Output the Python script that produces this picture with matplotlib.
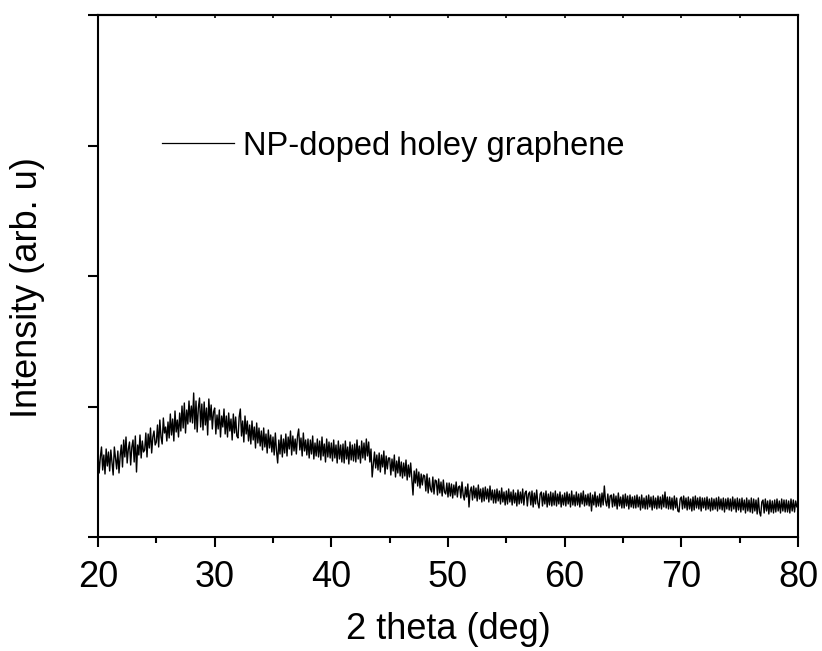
import numpy as np
import matplotlib
matplotlib.use("Agg")
import matplotlib.pyplot as plt

plt.rcParams['font.family'] = ['Liberation Sans', 'DejaVu Sans']

# 2-theta grid (deg) and intensity (arb. units), 0.1 deg steps
two_theta_start = 20.0
two_theta_step = 0.1
intensity = [
    84, 64, 80, 90, 67, 82, 63, 88, 71, 85,            # 20
    66, 87, 74, 62, 90, 79, 68, 86, 64, 81,            # 21
    92, 70, 97, 80, 100, 74, 88, 95, 72, 90,           # 22
    97, 75, 101, 65, 92, 82, 102, 79, 96, 85,          # 23
    87, 104, 80, 103, 89, 109, 84, 100, 106, 92,       # 24
    95, 112, 90, 117, 100, 93, 119, 104, 110, 96,      # 25
    115, 99, 123, 102, 118, 96, 126, 105, 117, 100,    # 26
    124, 106, 131, 109, 134, 104, 127, 113, 136, 115,  # 27
    131, 114, 144, 108, 136, 105, 129, 139, 110, 133,  # 28
    107, 135, 112, 129, 102, 138, 117, 132, 108, 125,  # 29
    129, 103, 122, 108, 127, 100, 121, 110, 128, 103,  # 30
    121, 100, 124, 106, 118, 97, 123, 104, 120, 101,   # 31
    99, 120, 128, 101, 116, 95, 121, 103, 116, 96,     # 32
    112, 93, 116, 97, 110, 89, 114, 94, 109, 91,       # 33
    106, 87, 109, 90, 103, 84, 107, 89, 102, 85,       # 34
    100, 82, 104, 86, 74, 97, 83, 102, 80, 98,         # 35
    84, 103, 81, 100, 88, 106, 82, 101, 86, 98,        # 36
    83, 101, 108, 87, 99, 81, 104, 86, 97, 82,         # 37
    98, 79, 97, 83, 101, 78, 94, 81, 98, 80,           # 38
    96, 77, 100, 81, 93, 75, 98, 80, 95, 79,           # 39
    94, 76, 97, 79, 92, 74, 96, 78, 92, 75,            # 40
    93, 74, 96, 78, 90, 73, 95, 77, 92, 76,            # 41
    93, 75, 97, 78, 91, 74, 96, 79, 94, 77,            # 42
    98, 81, 95, 75, 88, 60, 72, 85, 69, 82,            # 43
    67, 84, 65, 82, 70, 86, 63, 81, 68, 79,            # 44
    79, 62, 78, 66, 82, 60, 76, 64, 80, 61,            # 45
    75, 59, 74, 61, 77, 57, 72, 60, 74, 58,            # 46
    42, 66, 54, 68, 51, 65, 49, 63, 52, 62,            # 47
    61, 46, 63, 44, 59, 48, 45, 60, 43, 57,            # 48
    56, 42, 58, 44, 55, 41, 57, 45, 43, 54,            # 49
    40, 54, 41, 53, 39, 52, 42, 55, 40, 50,            # 50
    51, 39, 55, 42, 37, 50, 40, 53, 30, 46,            # 51
    50, 37, 51, 39, 49, 36, 52, 38, 48, 35,            # 52
    49, 36, 50, 38, 48, 35, 51, 37, 47, 34,            # 53
    47, 34, 48, 36, 46, 33, 49, 35, 45, 32,            # 54
    46, 33, 48, 35, 45, 32, 47, 34, 44, 31,            # 55
    47, 33, 45, 34, 48, 32, 44, 46, 31, 43,            # 56
    45, 32, 46, 30, 44, 33, 47, 34, 29, 43,            # 57
    45, 31, 44, 33, 46, 30, 43, 32, 45, 31,            # 58
    44, 32, 46, 31, 43, 33, 45, 30, 42, 32,            # 59
    44, 31, 45, 33, 43, 30, 46, 32, 42, 31,            # 60
    45, 32, 43, 30, 44, 33, 46, 31, 42, 32,            # 61
    43, 31, 44, 26, 42, 32, 45, 30, 41, 31,            # 62
    43, 30, 44, 32, 51, 36, 31, 43, 29, 41,            # 63
    42, 30, 43, 31, 41, 28, 44, 31, 40, 29,            # 64
    42, 29, 43, 31, 41, 28, 42, 30, 40, 29,            # 65
    41, 29, 42, 30, 40, 27, 42, 29, 39, 28,            # 66
    41, 28, 42, 30, 40, 27, 41, 29, 39, 28,            # 67
    41, 29, 40, 28, 42, 30, 45, 29, 40, 28,            # 68
    40, 28, 39, 27, 41, 29, 39, 26, 25, 38,            # 69
    40, 28, 41, 29, 39, 27, 40, 28, 38, 26,            # 70
    40, 27, 41, 29, 39, 28, 40, 26, 39, 29,            # 71
    39, 27, 40, 28, 38, 26, 39, 27, 38, 28,            # 72
    39, 26, 40, 28, 38, 27, 39, 25, 38, 28,            # 73
    39, 27, 38, 26, 40, 28, 38, 25, 39, 27,            # 74
    38, 25, 39, 27, 37, 24, 39, 26, 37, 25,            # 75
    39, 24, 38, 26, 37, 23, 39, 25, 21, 35,            # 76
    37, 24, 38, 26, 36, 23, 37, 25, 36, 24,            # 77
    37, 25, 38, 26, 36, 24, 38, 26, 37, 25,            # 78
    37, 25, 36, 24, 38, 26, 37, 25, 36, 30,            # 79
    32,                                                # 80
]
two_theta = two_theta_start + two_theta_step * np.arange(len(intensity))

series_label = "NP-doped holey graphene"
x_ticks = [20, 30, 40, 50, 60, 70, 80]
y_range = (0, 522)

fig = plt.figure(figsize=(8.22, 6.51), dpi=100)
ax = fig.add_axes([98/822, 1 - 537/651, 700/822, 522/651])

ax.plot(two_theta, intensity, color='black', lw=1.0, label=series_label)

ax.set_xlim(20, 80)
ax.set_ylim(*y_range)
ax.set_xticks(x_ticks)
ax.set_xticks(np.arange(25, 80, 10), minor=True)
ax.set_yticks(np.linspace(y_range[0], y_range[1], 5))
ax.set_yticklabels([])

for s in ax.spines.values():
    s.set_linewidth(1.5)

ax.tick_params(axis='x', which='major', direction='out', length=7.5, width=1.5,
               labelsize=26, pad=9)
ax.tick_params(axis='x', which='minor', direction='out', length=4.5, width=1.5)
ax.tick_params(axis='y', which='major', direction='out', length=7.5, width=1.5)

# tiny mirrored ticks on top
ax_top = ax.secondary_xaxis('top')
ax_top.set_xticks(list(range(20, 81, 5)))
ax_top.set_xticklabels([])
ax_top.tick_params(direction='in', length=2, width=1.2)
ax_top.spines['top'].set_linewidth(1.5)

ax.set_xlabel("2 theta (deg)", fontsize=26)
ax.xaxis.set_label_coords(0.5, (537 - 612) / 522)
ax.set_ylabel("Intensity (arb. u)", fontsize=26)
ax.yaxis.set_label_coords((45 - 98) / 700, (537 - 288) / 522)

ax.legend(loc='center left', bbox_to_anchor=((162 - 98) / 700, (537 - 146) / 522),
          frameon=False, fontsize=23.5, handlelength=2.2, handletextpad=0.28,
          borderpad=0, borderaxespad=0)
for line in ax.get_legend().get_lines():
    line.set_linewidth(0.9)

fig.savefig("out.png", dpi=100)
